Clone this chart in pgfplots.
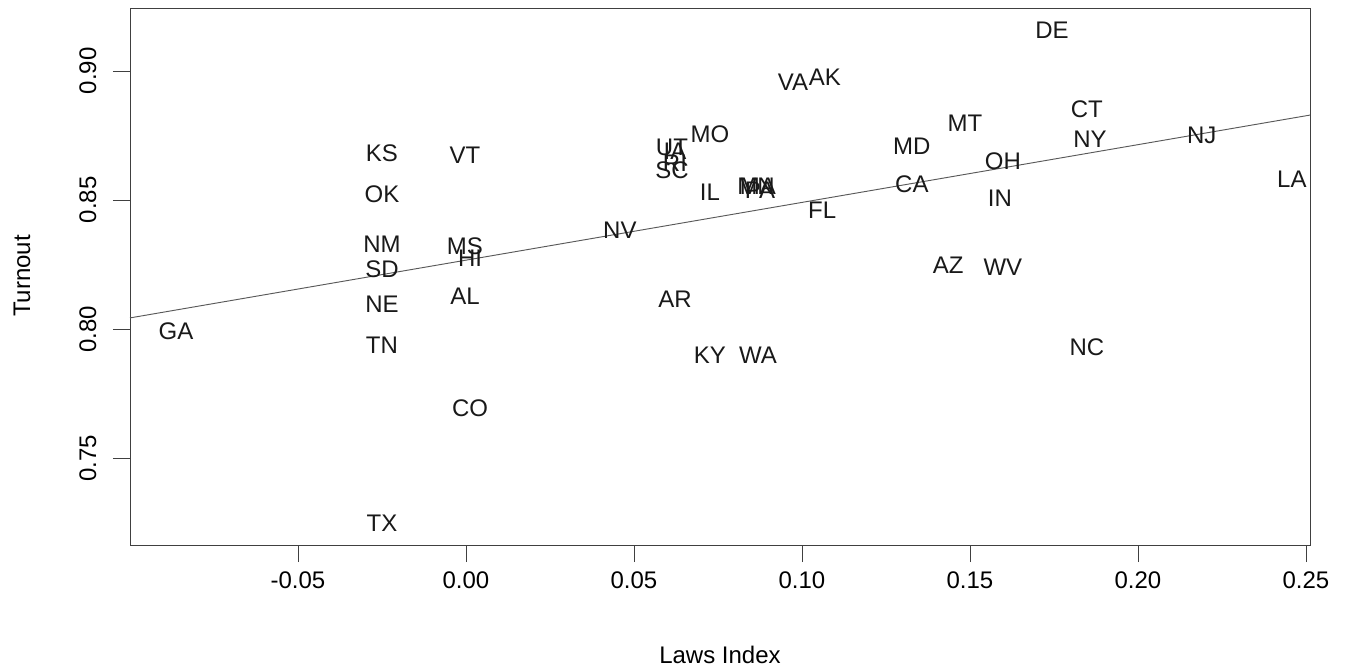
\documentclass[border=0pt]{standalone}
\usepackage{fontspec}
\setmainfont{Liberation Sans}
\usepackage{pgfplots}
\pgfplotsset{compat=1.18}

\pgfplotstableread{
x y label
-0.0863 0.7992 GA
-0.0250 0.8682 KS
-0.0250 0.8523 OK
-0.0250 0.8329 NM
-0.0250 0.8233 SD
-0.0250 0.8097 NE
-0.0250 0.7938 TN
-0.0250 0.7248 TX
-0.0003 0.8674 VT
-0.0003 0.8322 MS
0.0012 0.8275 HI
-0.0003 0.8128 AL
0.0012 0.7694 CO
0.0458 0.8384 NV
0.0622 0.8116 AR
0.0613 0.8705 UT
0.0622 0.8690 IA
0.0622 0.8643 RI
0.0613 0.8616 SC
0.0726 0.8756 MO
0.0726 0.8531 IL
0.0726 0.7899 KY
0.0869 0.7899 WA
0.0863 0.8554 MN
0.0869 0.8554 MA
0.0875 0.8539 PA
0.0973 0.8957 VA
0.1068 0.8977 AK
0.1060 0.8461 FL
0.1327 0.8709 MD
0.1327 0.8562 CA
0.1485 0.8798 MT
0.1435 0.8248 AZ
0.1598 0.8651 OH
0.1589 0.8508 IN
0.1598 0.8240 WV
0.1744 0.9159 DE
0.1848 0.8853 CT
0.1857 0.8736 NY
0.1848 0.7930 NC
0.2190 0.8752 NJ
0.2458 0.8581 LA
}\states

\begin{document}
\begin{tikzpicture}
\useasboundingbox (-97.5pt,-94.5pt) rectangle (912pt,408.75pt);
\begin{axis}[
    at={(0,0)}, anchor=south west,
    scale only axis,
    width=885pt, height=402.75pt,
    xmin=-0.1000, xmax=0.2512,
    ymin=0.7163, ymax=0.9244,
    axis line style={black!75, line width=0.6pt},
    tick style={black!75, line width=0.6pt},
    tick align=outside,
    major tick length=12.75pt,
    xtick={-0.05,0,0.05,0.10,0.15,0.20,0.25},
    ytick={0.75,0.80,0.85,0.90},
    xtick pos=bottom, ytick pos=left,
    minor tick num=0,
    font=\fontsize{18}{21}\selectfont,
    /pgf/number format/assume math mode=true,
    /pgf/number format/.cd, fixed, fixed zerofill, precision=2, /pgfplots/.cd,
    scaled ticks=false,
    xticklabel style={anchor=north, inner sep=0pt},
    xticklabel shift=6.75pt,
    yticklabel style={rotate=90, anchor=south, inner sep=0pt},
    yticklabel shift=12.3pt,
    xlabel={Laws Index},
    ylabel={Turnout},
    xlabel style={at={(axis description cs:0.5,-0.2048)}, anchor=center, inner sep=0pt},
    ylabel style={at={(axis description cs:-0.0915,0.501)}, anchor=center, inner sep=0pt},
    clip=false,
]
\addplot[black!65, line width=0.7pt] coordinates {(-0.1000,0.8043) (0.2512,0.8829)};
\addplot[only marks, mark=none, point meta=explicit symbolic,
    nodes near coords, nodes near coords align={center},
    every node near coord/.style={anchor=center, inner sep=0pt, text=black!90, font=\fontsize{18}{21}\selectfont}]
    table[x=x, y=y, meta=label] {\states};
\end{axis}
\end{tikzpicture}
\end{document}
